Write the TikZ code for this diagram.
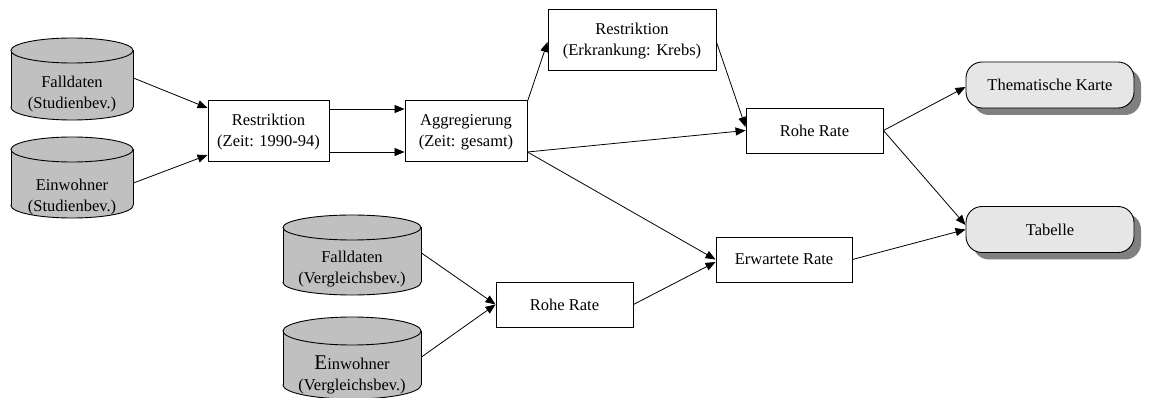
\documentclass[tikz,border=0pt]{standalone}
\usepackage{fontspec}
\setmainfont{Liberation Serif}
\usetikzlibrary{arrows.meta,shadows}
\definecolor{dbgray}{HTML}{C0C0C0}
\definecolor{outfill}{HTML}{E6E6E6}
\definecolor{shadowgray}{HTML}{808080}
% database cylinder: centre x, top y, bottom y, x radius, y radius
\newcommand{\dbshape}[5]{%
  \filldraw[fill=dbgray] (#1,#3-#5) ellipse[x radius=#4, y radius=#5];
  \fill[dbgray] (#1-#4,#2+#5) rectangle (#1+#4,#3-#5);
  \draw (#1-#4,#2+#5) -- (#1-#4,#3-#5) (#1+#4,#2+#5) -- (#1+#4,#3-#5);
  \filldraw[fill=dbgray] (#1,#2+#5) ellipse[x radius=#4, y radius=#5];
}
\begin{document}
\begin{tikzpicture}[x=1pt,y=-1pt,
  font=\fontsize{16.5}{21}\selectfont,
  line width=0.9pt,
  proc/.style={draw=black, fill=white, align=center, inner sep=0pt, text depth=0pt},
  outbox/.style={draw=black, fill=outfill, rounded corners=16pt, align=center,
    inner sep=0pt, minimum width=168pt, minimum height=46pt,
    drop shadow={shadow xshift=7pt, shadow yshift=-7pt, fill=shadowgray, opacity=1}},
  dbtext/.style={align=center, inner sep=0pt},
  flow/.style={-{Triangle[length=10pt,width=8pt]}, line width=0.8pt},
]
\useasboundingbox (0,0) rectangle (1149,398);

% data sources
\dbshape{72}{38}{120}{61}{12.5}
\dbshape{72}{137}{218}{61}{12.5}
\dbshape{352}{215}{295}{69}{12.5}
\dbshape{352}{317}{399}{69}{14}

\node[dbtext, minimum width=122pt] (fs) at (72,94) {Falldaten\\(Studienbev.)};
\node[dbtext, minimum width=122pt] (es) at (72,197) {Einwohner\\(Studienbev.)};
\node[dbtext, minimum width=138pt] (fv) at (352,269) {Falldaten\\(Vergleichsbev.)};
\node[dbtext, minimum width=138pt] (ev) at (352,375) {{\fontsize{21}{21}\selectfont E}inwohner\\(Vergleichsbev.)};

% processing steps
\node[proc, minimum width=121pt, minimum height=61pt] (r1) at (268.5,130.5) {Restriktion\\(Zeit: 1990-94)};
\node[proc, minimum width=122pt, minimum height=61pt] (ag) at (466,130.5) {Aggregierung\\(Zeit: gesamt)};
\node[proc, minimum width=168pt, minimum height=61pt] (rk) at (632,39.5) {Restriktion\\(Erkrankung: Krebs)};
\node[proc, minimum width=137pt, minimum height=45pt] (rr1) at (814.5,130.5) {Rohe Rate};
\node[proc, minimum width=136pt, minimum height=45pt] (er) at (784,259.5) {Erwartete Rate};
\node[proc, minimum width=137pt, minimum height=45pt] (rr2) at (564.5,304.5) {Rohe Rate};

% outputs
\node[outbox] (tk) at (1050,85) {Thematische Karte};
\node[outbox] (tb) at (1050,229.5) {Tabelle};

% flows
\draw[flow] ([yshift=16pt]fs.east) -- ([yshift=22.5pt]r1.west);
\draw[flow] ([yshift=14pt]es.east) -- ([yshift=-24.5pt]r1.west);
\draw[flow] ([yshift=21.5pt]r1.east) -- ([yshift=21.5pt]ag.west);
\draw[flow] ([yshift=-21.5pt]r1.east) -- ([yshift=-21.5pt]ag.west);
\draw[flow] ([yshift=-2pt]ag.north east) -- ([yshift=-2.5pt]rk.west);
\draw[flow] ([yshift=-2.5pt]rk.east) -- ([yshift=3.5pt]rr1.west);
\draw[flow] ([yshift=-21.5pt]ag.east) -- (rr1.west);
\draw[flow] ([yshift=-21.5pt]ag.east) -- (er.west);
\draw[flow] ([yshift=16pt]fv.east) -- (rr2.west);
\draw[flow] ([yshift=18pt]ev.east) -- (rr2.west);
\draw[flow] (rr2.east) -- ([yshift=-2.5pt]er.west);
\draw[flow] (rr1.east) -- ([yshift=-2pt]tk.west);
\draw[flow] (rr1.east) -- ([yshift=4.5pt]tb.west);
\draw[flow] (er.east) -- (tb.west);
\end{tikzpicture}
\end{document}
